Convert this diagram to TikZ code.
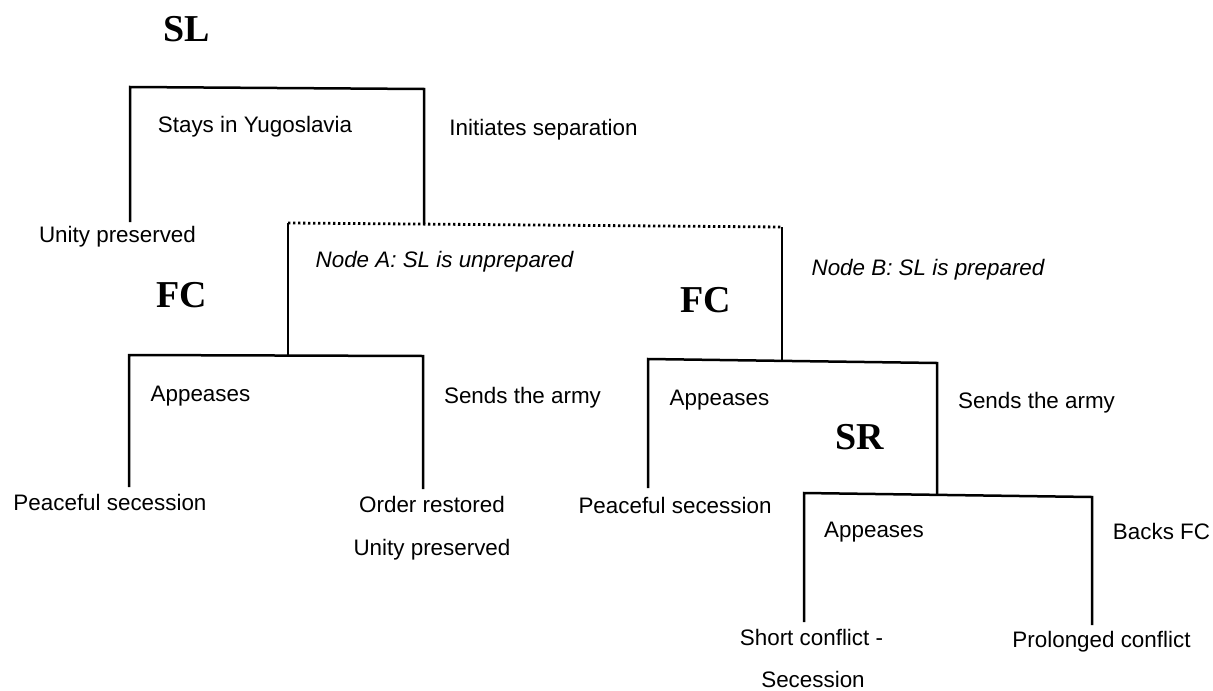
\documentclass[tikz,border=0pt]{standalone}
\usepackage{fontspec}
\setmainfont{Liberation Sans}
\newfontfamily\tms{Liberation Serif}
\begin{document}
\begin{tikzpicture}[x=0.5pt,y=-0.5pt,
  lbl/.style={anchor=base, inner sep=0pt, font=\fontsize{11.2}{13}\selectfont},
  ital/.style={anchor=base, inner sep=0pt, font=\fontsize{11.2}{13}\selectfont\itshape},
  player/.style={anchor=base, inner sep=0pt, font=\fontsize{19}{22}\selectfont\tms\bfseries},
  edge/.style={line width=1.25pt, line join=miter},
  info/.style={line width=1.4pt, dash pattern=on 1.2pt off 1.3pt}]
\useasboundingbox (0,0) rectangle (1213,690);
% players
\node[player] (sl) at (186.5,42) {SL};
\node[player] (fcl) at (182,307) {FC};
\node[player] (fcr) at (706,312) {FC};
\node[player] (sr) at (860,449) {SR};
% tree points
\coordinate (t1) at (130,87);
\coordinate (t2) at (424,89);
\coordinate (u1) at (130,222);
\coordinate (d1) at (288,223);
\coordinate (d2) at (782,227);
\coordinate (dm) at (424,224);
\coordinate (a0) at (288,355);
\coordinate (a1) at (129,355);
\coordinate (a2) at (423,356);
\coordinate (a1b) at (129,487);
\coordinate (a2b) at (423,489);
\coordinate (b0) at (782,360);
\coordinate (b1) at (648,359);
\coordinate (b2) at (937,363);
\coordinate (b1b) at (648,488);
\coordinate (b2b) at (937,495);
\coordinate (c1) at (804,493);
\coordinate (c2) at (1092,497);
\coordinate (c1b) at (804,622);
\coordinate (c2b) at (1092,625);
% edges
\draw[edge] (u1) -- (t1) -- (t2) -- (dm);
\draw[info] (d1) -- (d2);
\draw[edge] (d1) -- (a0);
\draw[edge] (a1b) -- (a1) -- (a2) -- (a2b);
\draw[edge] (d2) -- (b0);
\draw[edge] (b1b) -- (b1) -- (b2) -- (b2b);
\draw[edge] (c1b) -- (c1) -- (c2) -- (c2b);
% labels
\node[lbl] (stay) at (255,133) {Stays in Yugoslavia};
\node[lbl] (init) at (543.5,135) {Initiates separation};
\node[lbl] (up1) at (117.5,242) {Unity preserved};
\node[ital] (na) at (444.5,267) {Node A: SL is unprepared};
\node[ital] (nb) at (928,275) {Node B: SL is prepared};
\node[lbl] (apl) at (200.5,401) {Appeases};
\node[lbl] (sal) at (522.5,403) {Sends the army};
\node[lbl] (psl) at (110,510) {Peaceful secession};
\node[lbl] (ord) at (432,512) {Order restored};
\node[lbl] (up2) at (432,555) {Unity preserved};
\node[lbl] (apr) at (719.5,405) {Appeases};
\node[lbl] (sar) at (1036.5,408) {Sends the army};
\node[lbl] (psr) at (675,513) {Peaceful secession};
\node[lbl] (aps) at (874,537) {Appeases};
\node[lbl] (bfc) at (1161.5,539) {Backs FC};
\node[lbl] (sc) at (811.5,645) {Short conflict -};
\node[lbl] (sec) at (813,687) {Secession};
\node[lbl] (pc) at (1101.5,647) {Prolonged conflict};
\end{tikzpicture}
\end{document}
